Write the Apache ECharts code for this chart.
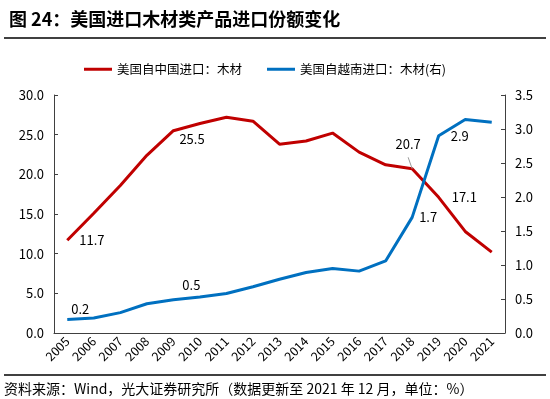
<!DOCTYPE html>
<html>
<head>
<meta charset="utf-8">
<style>
  html, body { margin: 0; padding: 0; background: #fff; }
  #chart { width: 550px; height: 399px; }
</style>
<script src="https://cdn.jsdelivr.net/npm/echarts@6/dist/echarts.min.js"></script>
</head>
<body>
<div id="chart"></div>
<script>
const years = ['2005', '2006', '2007', '2008', '2009', '2010', '2011', '2012', '2013',
  '2014', '2015', '2016', '2017', '2018', '2019', '2020', '2021']
// 美国自中国进口：木材（%）
const chinaShare = [11.7, 15.1, 18.6, 22.4, 25.5, 26.4, 27.2, 26.7, 23.8, 24.2, 25.2, 22.8, 21.2, 20.7, 17.1, 12.8, 10.2]
// 美国自越南进口：木材（%，右轴）
const vietnamShare = [0.2, 0.22, 0.3, 0.43, 0.49, 0.53, 0.58, 0.68, 0.79, 0.89, 0.95, 0.91, 1.06, 1.7, 2.9, 3.14, 3.1]
const leftTicks = { min: 0, max: 30, step: 5 }
const rightTicks = { min: 0, max: 3.5, step: 0.5 }

const FONT = '"Noto Sans CJK SC", "Noto Sans", sans-serif'
const RED = '#C00000'
const BLUE = '#0070C0'

// which points carry a value label, and where it sits
const chinaLabels = {
  0: { position: 'right', distance: 12 },
  4: { position: 'right', distance: 6, offset: [0, 8] },
  13: { position: 'top', distance: 18, offset: [-4, 0], leader: true },
  14: { position: 'right', distance: 13 }
}
const vietnamLabels = {
  0: { position: 'top', distance: 4, offset: [13, 0] },
  4: { position: 'top', distance: 8, offset: [18, 0] },
  13: { position: 'right', distance: 7 },
  14: { position: 'right', distance: 12 }
}

function withLabels(values, labels) {
  return values.map((v, i) => {
    const lab = labels[i]
    if (!lab) return v
    const { leader, ...pos } = lab
    return {
      value: v,
      label: Object.assign({ show: true, formatter: p => Number(p.value).toFixed(1) }, pos),
      labelLine: { show: !!leader, lineStyle: { color: '#999', width: 1 } }
    }
  })
}

const chart = echarts.init(document.getElementById('chart'))

const axisLineStyle = { color: '#404040', width: 1 }
const labelText = { fontFamily: FONT, fontSize: 13, color: '#000' }

chart.setOption({
  animation: false,
  textStyle: { fontFamily: FONT },
  title: {
    text: '图 24：美国进口木材类产品进口份额变化',
    left: 4,
    top: 5,
    textStyle: { fontFamily: FONT, fontSize: 18, fontWeight: 'bold', color: '#000' }
  },
  legend: {
    left: 79,
    top: 58,
    itemWidth: 28,
    itemHeight: 3,
    itemGap: 25,
    icon: 'rect',
    textStyle: { fontFamily: FONT, fontSize: 12.5, color: '#000' },
    data: ['美国自中国进口：木材', '美国自越南进口：木材(右)']
  },
  grid: { left: 54, right: 45, top: 95, bottom: 66 },
  xAxis: {
    type: 'category',
    data: years,
    boundaryGap: true,
    axisLine: { lineStyle: axisLineStyle },
    axisTick: { inside: true, length: 4, lineStyle: axisLineStyle },
    axisLabel: { rotate: 45, fontFamily: FONT, fontSize: 12.5, color: '#000', margin: 6, interval: 0 }
  },
  yAxis: [
    {
      type: 'value',
      min: leftTicks.min, max: leftTicks.max, interval: leftTicks.step,
      axisLine: { show: true, lineStyle: axisLineStyle },
      axisTick: { show: true, inside: true, length: 4, lineStyle: axisLineStyle },
      splitLine: { show: false },
      axisLabel: Object.assign({ formatter: v => v.toFixed(1), margin: 10 }, labelText)
    },
    {
      type: 'value',
      min: rightTicks.min, max: rightTicks.max, interval: rightTicks.step,
      axisLine: { show: true, lineStyle: axisLineStyle },
      axisTick: { show: true, inside: true, length: 4, lineStyle: axisLineStyle },
      splitLine: { show: false },
      axisLabel: Object.assign({ formatter: v => v.toFixed(1), margin: 10 }, labelText)
    }
  ],
  series: [
    {
      name: '美国自中国进口：木材',
      type: 'line',
      yAxisIndex: 0,
      data: withLabels(chinaShare, chinaLabels),
      symbol: 'circle',
      symbolSize: 0,
      showAllSymbol: true,
      lineStyle: { color: RED, width: 3 },
      itemStyle: { color: RED },
      label: { color: '#000', fontSize: 13, fontFamily: FONT }
    },
    {
      name: '美国自越南进口：木材(右)',
      type: 'line',
      yAxisIndex: 1,
      data: withLabels(vietnamShare, vietnamLabels),
      symbol: 'circle',
      symbolSize: 0,
      showAllSymbol: true,
      lineStyle: { color: BLUE, width: 3 },
      itemStyle: { color: BLUE },
      label: { color: '#000', fontSize: 13, fontFamily: FONT }
    }
  ],
  graphic: [
    { type: 'line', shape: { x1: 4, y1: 38, x2: 546, y2: 38 }, style: { stroke: '#000', lineWidth: 1.5 } },
    { type: 'line', shape: { x1: 4, y1: 375, x2: 546, y2: 375 }, style: { stroke: '#000', lineWidth: 1.5 } },
    {
      type: 'text', left: 4, top: 382,
      style: {
        text: '资料来源：Wind，光大证券研究所（数据更新至 2021 年 12 月，单位：%）',
        font: '14px ' + FONT, fill: '#000'
      }
    }
  ]
})
</script>
</body>
</html>
